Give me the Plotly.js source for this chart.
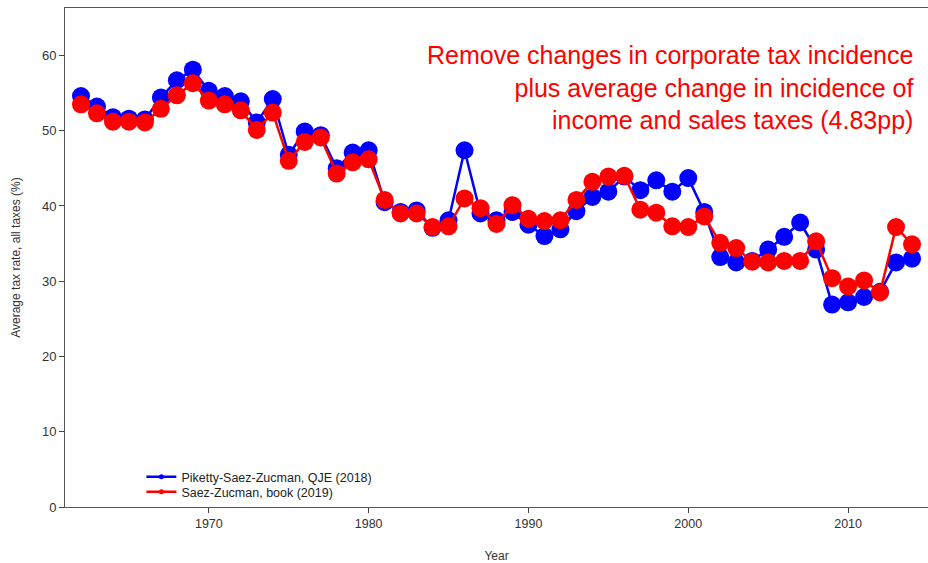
<!DOCTYPE html>
<html>
<head>
<meta charset="utf-8">
<script src="https://cdn.plot.ly/plotly-3.0.1.min.js"></script>
<style>html,body{margin:0;padding:0;background:#fff;}#chart{width:928px;height:563px;}</style>
</head>
<body>
<div id="chart"></div>
<script>
const years = [1962,1963,1964,1965,1966,1967,1968,1969,1970,1971,1972,1973,1974,1975,1976,1977,1978,1979,1980,1981,1982,1983,1984,1985,1986,1987,1988,1989,1990,1991,1992,1993,1994,1995,1996,1997,1998,1999,2000,2001,2002,2003,2004,2005,2006,2007,2008,2009,2010,2011,2012,2013,2014];
const pszQJE2018 = [54.6,53.2,51.8,51.6,51.5,54.4,56.7,58.1,55.3,54.6,53.9,51.1,54.2,46.8,49.9,49.4,45.0,47.1,47.4,40.5,39.2,39.4,37.1,38.1,47.4,39.0,38.1,39.2,37.5,36.0,36.9,39.3,41.2,41.9,43.9,42.1,43.4,41.9,43.7,39.2,33.2,32.5,32.7,34.2,35.9,37.8,34.2,26.9,27.2,27.9,28.6,32.5,33.0];
const szBook2019 = [53.5,52.3,51.2,51.2,51.1,52.9,54.7,56.3,54.0,53.5,52.7,50.1,52.4,46.0,48.5,49.1,44.3,45.8,46.2,40.8,39.0,39.0,37.2,37.3,41.0,39.7,37.6,40.1,38.3,38.0,38.1,40.8,43.2,43.9,44.0,39.5,39.1,37.3,37.2,38.6,35.1,34.4,32.6,32.5,32.7,32.7,35.3,30.4,29.3,30.1,28.5,37.2,34.9];
const seriesNames = ["Piketty-Saez-Zucman, QJE (2018)", "Saez-Zucman, book (2019)"];
const yTicks = [0,10,20,30,40,50,60];
const xTicks = [1970,1980,1990,2000,2010];
const noteLines = ["Remove changes in corporate tax incidence","plus average change in incidence of","income and sales taxes (4.83pp)"];

const BLUE = "#0000ff", RED = "#ff0000";
const FONT = "Liberation Sans, Arial, sans-serif";

const traces = [
  {x: years, y: pszQJE2018, mode: "lines+markers", name: seriesNames[0], showlegend: false,
   line: {color: BLUE, width: 2.5}, marker: {color: BLUE, size: 18}},
  {x: years, y: szBook2019, mode: "lines+markers", name: seriesNames[1], showlegend: false,
   line: {color: RED, width: 2.5}, marker: {color: RED, size: 18}},
  {x: [null], y: [null], mode: "lines+markers", name: seriesNames[0], legend: "legend",
   line: {color: BLUE, width: 2.5}, marker: {color: BLUE, size: 5}},
  {x: [null], y: [null], mode: "lines+markers", name: seriesNames[1], legend: "legend2",
   line: {color: RED, width: 2.5}, marker: {color: RED, size: 5}}
];

const legendBase = {xanchor: "left", yanchor: "middle", bgcolor: "rgba(0,0,0,0)",
  font: {size: 12.5, family: FONT, color: "#222"}, itemwidth: 30};

const layout = {
  width: 928, height: 563,
  margin: {l: 65, r: 0, t: 8, b: 56},
  paper_bgcolor: "#fff", plot_bgcolor: "#fff",
  font: {family: FONT, color: "#222", size: 12},
  showlegend: true,
  legend: Object.assign({x: 0.0885, y: 0.060}, legendBase),
  legend2: Object.assign({x: 0.0885, y: 0.030}, legendBase),
  xaxis: {range: [1961, 2015], tickvals: xTicks, ticks: "outside", ticklen: 5, tickcolor: "#444",
          showgrid: false, zeroline: false, showline: true, linecolor: "#555", linewidth: 1, mirror: true,
          tickfont: {size: 12.5, family: FONT, color: "#333"},
          title: {text: "Year", font: {size: 12, family: FONT, color: "#333"}, standoff: 26}},
  yaxis: {range: [0, 66.3], tickvals: yTicks, ticks: "outside", ticklen: 5, tickcolor: "#444",
          showgrid: false, zeroline: false, showline: true, linecolor: "#555", linewidth: 1,
          tickfont: {size: 13, family: FONT, color: "#333"},
          title: {text: "Average tax rate, all taxes (%)", font: {size: 12, family: FONT, color: "#333"}, standoff: 18}},
  annotations: [{
    xref: "paper", yref: "paper", x: 0.985, y: 0.938, xanchor: "right", yanchor: "top", align: "right",
    showarrow: false, text: noteLines.join("<br>"),
    font: {size: 25, family: FONT, color: RED}
  }]
};

Plotly.newPlot("chart", traces, layout, {displayModeBar: false, staticPlot: true});
</script>
</body>
</html>
